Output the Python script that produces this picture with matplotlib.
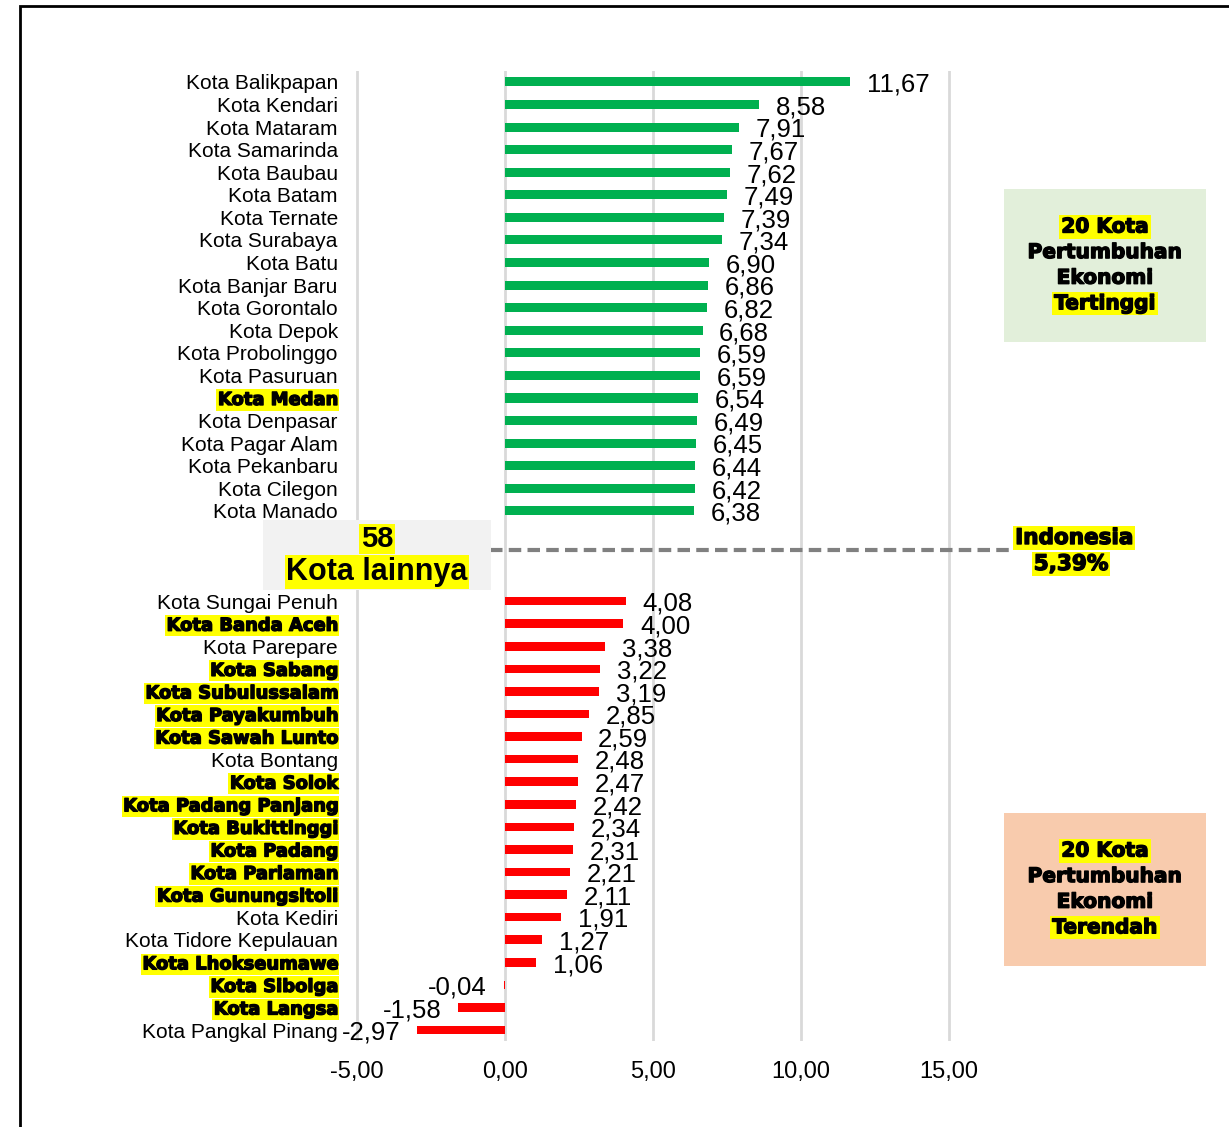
import matplotlib
matplotlib.use("Agg")
import matplotlib.pyplot as plt
import matplotlib.patheffects as pe
from matplotlib.patches import Rectangle
import numpy as np

# data
top_kota = ['Kota Balikpapan', 'Kota Kendari', 'Kota Mataram', 'Kota Samarinda', 'Kota Baubau',
            'Kota Batam', 'Kota Ternate', 'Kota Surabaya', 'Kota Batu', 'Kota Banjar Baru',
            'Kota Gorontalo', 'Kota Depok', 'Kota Probolinggo', 'Kota Pasuruan', 'Kota Medan',
            'Kota Denpasar', 'Kota Pagar Alam', 'Kota Pekanbaru', 'Kota Cilegon', 'Kota Manado']
top_nilai = [11.67, 8.58, 7.91, 7.67, 7.62, 7.49, 7.39, 7.34, 6.90, 6.86,
             6.82, 6.68, 6.59, 6.59, 6.54, 6.49, 6.45, 6.44, 6.42, 6.38]

bawah_kota = ['Kota Sungai Penuh', 'Kota Banda Aceh', 'Kota Parepare', 'Kota Sabang', 'Kota Subulussalam',
              'Kota Payakumbuh', 'Kota Sawah Lunto', 'Kota Bontang', 'Kota Solok', 'Kota Padang Panjang',
              'Kota Bukittinggi', 'Kota Padang', 'Kota Pariaman', 'Kota Gunungsitoli', 'Kota Kediri',
              'Kota Tidore Kepulauan', 'Kota Lhokseumawe', 'Kota Sibolga', 'Kota Langsa', 'Kota Pangkal Pinang']
bawah_nilai = [4.08, 4.00, 3.38, 3.22, 3.19, 2.85, 2.59, 2.48, 2.47, 2.42,
               2.34, 2.31, 2.21, 2.11, 1.91, 1.27, 1.06, -0.04, -1.58, -2.97]

sorot = ['Kota Medan', 'Kota Banda Aceh', 'Kota Sabang', 'Kota Subulussalam', 'Kota Payakumbuh',
         'Kota Sawah Lunto', 'Kota Solok', 'Kota Padang Panjang', 'Kota Bukittinggi', 'Kota Padang',
         'Kota Pariaman', 'Kota Gunungsitoli', 'Kota Lhokseumawe', 'Kota Sibolga', 'Kota Langsa']

xticks = [-5, 0, 5, 10, 15]
nasional = '5,39%'

W, H = 1229, 1127
fig = plt.figure(figsize=(W / 100, H / 100), dpi=100)
plt.rcParams['font.family'] = ['Liberation Sans', 'DejaVu Sans']

tebal = [pe.withStroke(linewidth=1.0, foreground='black')]


def fx(px):
    return px / W


def fy(py):
    return 1 - py / H


ax = fig.add_axes([0.276, 0.076, 0.9886 - 0.276, 0.9373 - 0.076])

y_top = np.arange(20)
y_bawah = np.arange(23, 43)

ax.barh(y_top, top_nilai, height=0.4, color='#00B050', zorder=3)
ax.barh(y_bawah, bawah_nilai, height=0.38, color='#FF0000', zorder=3)

ax.set_xlim(-5.6, 24.0)
ax.set_ylim(42.5, -0.5)

# nilai
for y, v in zip(list(y_top) + list(y_bawah), top_nilai + bawah_nilai):
    s = f'{v:.2f}'.replace('.', ',')
    if v >= 0:
        ax.annotate(s, (v, y), xytext=(12, -2), textcoords='offset points',
                    ha='left', va='center', fontsize=18.5, zorder=4)
    else:
        ax.annotate(s, (v, y), xytext=(-12, -2), textcoords='offset points',
                    ha='right', va='center', fontsize=18.5, zorder=4)

ax.set_yticks(list(y_top) + list(y_bawah))
ax.set_yticklabels(top_kota + bawah_kota, fontsize=15)
for lbl in ax.get_yticklabels():
    if lbl.get_text() in sorot:
        lbl.set_fontfamily('DejaVu Sans')
        lbl.set_fontweight('bold')
        lbl.set_fontsize(12.9)
        lbl.set_path_effects(tebal)
        lbl.set_bbox(dict(facecolor='#FFFF00', edgecolor='none', pad=1.2))

ax.set_xticks(xticks)
ax.set_xticklabels([f'{t:.2f}'.replace('.', ',') for t in xticks], fontsize=17)
ax.tick_params(axis='both', length=0)
ax.tick_params(axis='y', pad=1)
ax.tick_params(axis='x', pad=14)
ax.grid(axis='x', color='#D9D9D9', linewidth=2, zorder=0)
ax.set_axisbelow(True)
for sp in ax.spines.values():
    sp.set_visible(False)

# garis pemisah Indonesia
ax.plot([-0.5, 17.2], [20.73, 20.73], color='#808080', linewidth=3, linestyle=(0, (3, 1.5)), zorder=2)

# kotak 58 kota lainnya
fig.patches.append(Rectangle((fx(263), fy(590)), fx(491) - fx(263), fy(520) - fy(590),
                             transform=fig.transFigure, facecolor='#F2F2F2', edgecolor='none', zorder=5))
fig.text(fx(377), fy(539), '58', ha='center', va='center', fontsize=21, fontweight='bold', zorder=6,
         bbox=dict(facecolor='#FFFF00', edgecolor='none', pad=1))
fig.text(fx(377), fy(572), 'Kota lainnya', ha='center', va='center', fontsize=22, fontweight='bold', zorder=6,
         bbox=dict(facecolor='#FFFF00', edgecolor='none', pad=1))

# Indonesia
fig.text(fx(1074), fy(538), 'Indonesia', ha='center', va='center', fontsize=15.5, fontweight='bold',
         family='DejaVu Sans', zorder=6, path_effects=tebal,
         bbox=dict(facecolor='#FFFF00', edgecolor='none', pad=1.5))
fig.text(fx(1071), fy(564), nasional, ha='center', va='center', fontsize=15.5, fontweight='bold',
         family='DejaVu Sans', zorder=6, path_effects=tebal,
         bbox=dict(facecolor='#FFFF00', edgecolor='none', pad=1.5))


def kotak(y0, y1, warna, baris, sorot_baris):
    fig.patches.append(Rectangle((fx(1004), fy(y1)), fx(1206) - fx(1004), fy(y0) - fy(y1),
                                 transform=fig.transFigure, facecolor=warna, edgecolor='none', zorder=5))
    yy = y0 + 38
    for i, t in enumerate(baris):
        bb = dict(facecolor='#FFFF00', edgecolor='none', pad=1.5) if i in sorot_baris else None
        fig.text(fx(1105), fy(yy + i * 25.6), t, ha='center', va='center', fontsize=14.5,
                 fontweight='bold', family='DejaVu Sans', zorder=6, bbox=bb, path_effects=tebal)


kotak(189, 342, '#E2EFDA', ['20 Kota', 'Pertumbuhan', 'Ekonomi', 'Tertinggi'], [0, 3])
kotak(813, 966, '#F8CBAD', ['20 Kota', 'Pertumbuhan', 'Ekonomi', 'Terendah'], [0, 3])

# bingkai luar
fig.patches.append(Rectangle((fx(20), -0.05), 1.1, fy(6) + 0.05, transform=fig.transFigure,
                             facecolor='none', edgecolor='black', linewidth=2, zorder=10))

fig.savefig('out.png', dpi=100)
